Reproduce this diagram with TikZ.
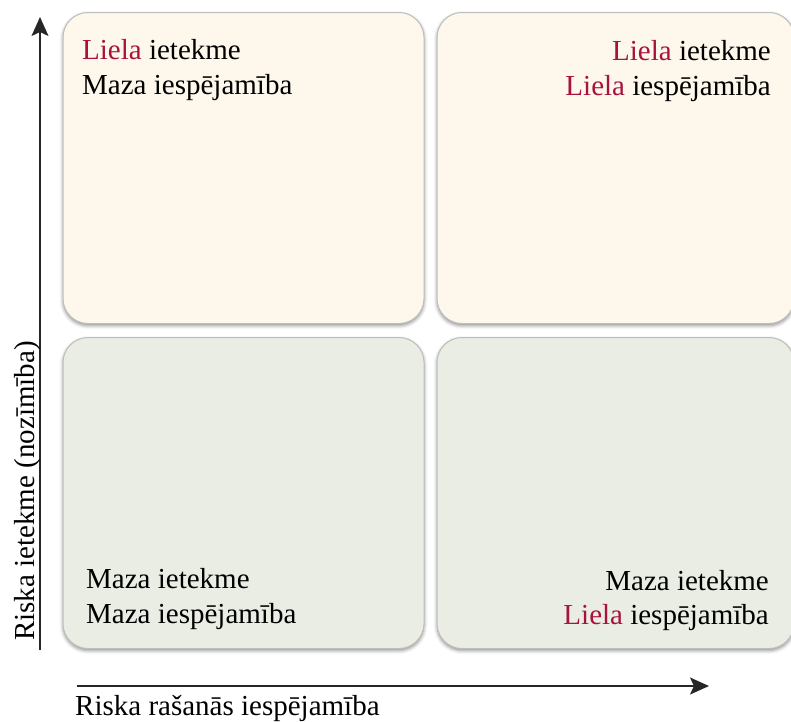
\documentclass[tikz,border=0pt]{standalone}
\usepackage{fontspec}
\setmainfont{Liberation Serif}
\usetikzlibrary{arrows.meta,shadows.blur}
\definecolor{warmcell}{HTML}{FDF8EB}
\definecolor{coolcell}{HTML}{EAEDE4}
\definecolor{highred}{HTML}{A8123E}
\definecolor{celledge}{HTML}{BDBDBD}
\tikzset{
  cell/.style={draw=celledge, line width=1pt, rounded corners=25pt,
    inner sep=0pt, minimum width=361pt, minimum height=311pt,
    blur shadow={shadow xshift=0pt, shadow yshift=-2pt,
      shadow blur radius=3.5pt, shadow opacity=45}},
  hot/.style={cell, fill=warmcell},
  cold/.style={cell, fill=coolcell},
  txt/.style={inner sep=0pt, font=\fontsize{29}{35}\selectfont},
  axis/.style={line width=1.4pt, draw=black!85,
    -{Stealth[length=19pt, width=17pt, inset=4pt]}},
}
\begin{document}
\begin{tikzpicture}[x=1pt, y=-1pt]
  \useasboundingbox (0,0) rectangle (791,721);
  \begin{scope}
    \clip (0,0) rectangle (791,721);
    % quadrants
    \node[hot]  (hh) at (243.5,168) {};
    \node[hot, minimum width=357pt]  (hr) at (615.5,168) {};
    \node[cold] (lh) at (243.5,493) {};
    \node[cold, minimum width=357pt] (lr) at (615.5,493) {};
  \end{scope}

  % quadrant labels
  \node[txt, anchor=base west] (t1a) at (82,59) {\textcolor{highred}{Liela} ietekme};
  \node[txt, anchor=base west] (t1b) at (82,94) {Maza iespējamība};
  \node[txt, anchor=base east] (t2a) at (771,60) {\textcolor{highred}{Liela} ietekme};
  \node[txt, anchor=base east] (t2b) at (771,95) {\textcolor{highred}{Liela} iespējamība};
  \node[txt, anchor=base west] (t3a) at (86,588) {Maza ietekme};
  \node[txt, anchor=base west] (t3b) at (86,623) {Maza iespējamība};
  \node[txt, anchor=base east] (t4a) at (769,590) {Maza ietekme};
  \node[txt, anchor=base east] (t4b) at (769,624) {\textcolor{highred}{Liela} iespējamība};

  % axes
  \coordinate (yfoot) at (40,650);
  \coordinate (ytip) at (40,17);
  \coordinate (xfoot) at (77,686);
  \coordinate (xtip) at (709,686);
  \draw[axis] (yfoot) -- (ytip);
  \draw[axis] (xfoot) -- (xtip);

  % axis titles
  \node[txt, rotate=90, anchor=base west] (ylab) at (34,641) {Riska ietekme (nozīmība)};
  \node[txt, anchor=base west] (xlab) at (75,715) {Riska rašanās iespējamība};
\end{tikzpicture}
\end{document}
